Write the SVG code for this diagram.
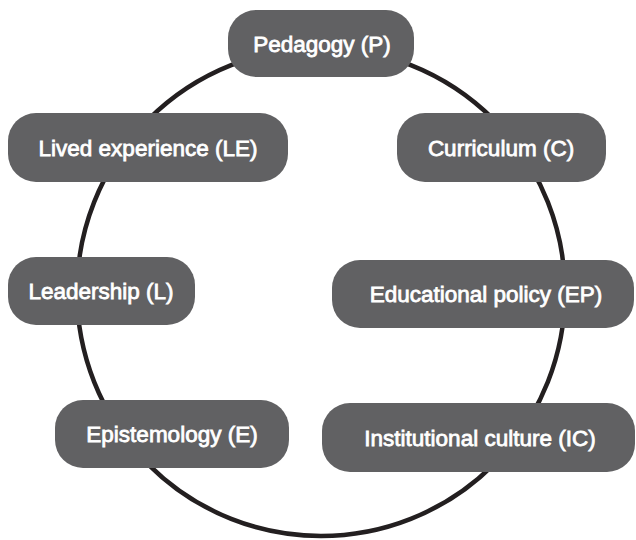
<svg xmlns="http://www.w3.org/2000/svg" width="636" height="540" viewBox="0 0 636 540">
<style>
.box{fill:#616163;}
.lbl{font-family:"Liberation Sans",Arial,sans-serif;font-size:22.5px;fill:#ffffff;stroke:#ffffff;stroke-width:0.8;text-anchor:middle;}
.ring{fill:none;stroke:#231f20;stroke-width:4.5;}
</style>
<rect width="636" height="540" fill="#ffffff"/>
<g id="connectors">
<circle class="ring" cx="321" cy="292" r="244"/>
</g>
<g id="node-P"><rect class="box" x="228" y="10" width="186" height="67" rx="28"/><text class="lbl" x="322" y="52">Pedagogy (P)</text></g>
<g id="node-LE"><rect class="box" x="8" y="113" width="280" height="69" rx="28"/><text class="lbl" x="148" y="156">Lived experience (LE)</text></g>
<g id="node-C"><rect class="box" x="397" y="113" width="209" height="69" rx="28"/><text class="lbl" x="501" y="156">Curriculum (C)</text></g>
<g id="node-L"><rect class="box" x="8" y="257" width="187" height="68" rx="28"/><text class="lbl" x="101" y="299">Leadership (L)</text></g>
<g id="node-EP"><rect class="box" x="332" y="260" width="302" height="68" rx="28"/><text class="lbl" x="486" y="302">Educational policy (EP)</text></g>
<g id="node-E"><rect class="box" x="55" y="400" width="234" height="68" rx="28"/><text class="lbl" x="172" y="442">Epistemology (E)</text></g>
<g id="node-IC"><rect class="box" x="322" y="403" width="313" height="69" rx="28"/><text class="lbl" x="480" y="446">Institutional culture (IC)</text></g>
</svg>
